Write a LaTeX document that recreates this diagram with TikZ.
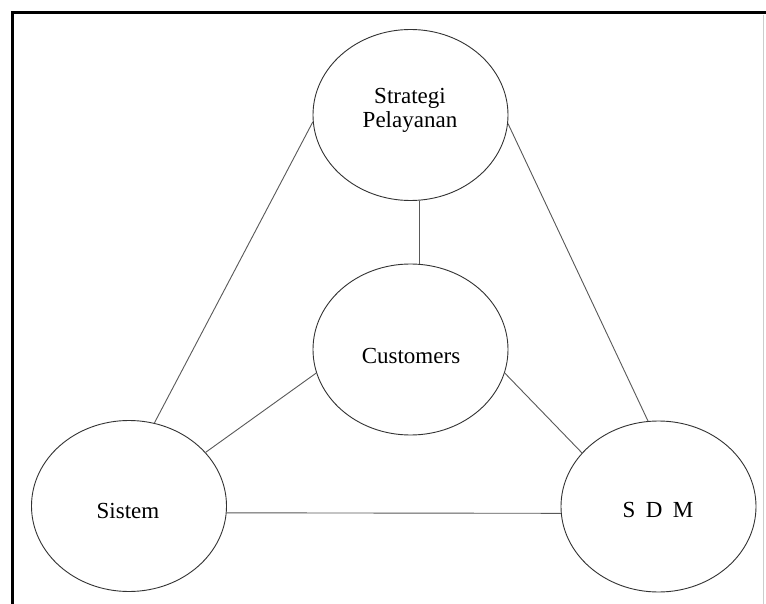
\documentclass[tikz,border=0pt]{standalone}
\usepackage{fontspec}
\setmainfont{Liberation Serif}
\usetikzlibrary{shapes.geometric}
\begin{document}
\begin{tikzpicture}[x=1pt,y=-1pt,
  oval/.style={ellipse, draw=black!80, line width=0.9pt, minimum width=195pt, minimum height=171pt, inner sep=0pt},
  link/.style={draw=black!65, line width=0.9pt},
  lbl/.style={font=\fontsize{23}{25}\selectfont, anchor=base, inner sep=0pt},
  frameline/.style={line width=3pt, black}]
\useasboundingbox (0,0) rectangle (766,604);
\fill[white] (0,0) rectangle (766,604);
\draw[frameline] (12,604) -- (12,13) -- (766,13);
\draw[black!20, line width=0.8pt] (763,15) -- (763,604);

\node[oval] (strat) at (410.5,115) {};
\node[oval] (cust) at (410.5,349.5) {};
\node[oval] (sis) at (129,506) {};
\node[oval] (sdm) at (658.5,506.5) {};

\node[lbl] (stratA) at (410,104) {Strategi};
\node[lbl] (stratB) at (410,128) {Pelayanan};
\node[lbl] (custT) at (411,363) {Customers};
\node[lbl] (sisT) at (128,518) {Sistem};
\node[lbl] (sdmT) at (658,517) {S\hspace{0.45em}D\hspace{0.45em}M};

\draw[link] (strat.184) -- (sis.73);
\draw[link] (strat.355) -- (sdm.97);
\draw[link] (strat.276) -- (cust.84);
\draw[link] (cust.194) -- (sis.35);
\draw[link] (cust.346) -- (sdm.145);
\draw[link] (sis.-4) -- (sdm.184);
\end{tikzpicture}
\end{document}
